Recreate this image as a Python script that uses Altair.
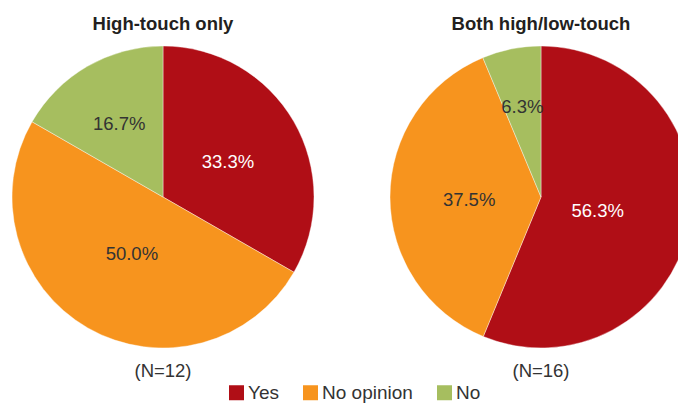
import altair as alt
import pandas as pd

# ---- data ----
answers = ["Yes", "No opinion", "No"]
colors = ["#B00E16", "#F7941E", "#A6BE5F"]
high_touch_pct = [33.3, 50.0, 16.7]
both_pct = [56.3, 37.5, 6.3]
panel_titles = ["High-touch only", "Both high/low-touch"]
n_values = [12, 16]

FONT = "Liberation Sans"
R = 151
CY = 189
CX = [155, 533]

legend = alt.Legend(
    orient="none", legendX=219, legendY=375, direction="horizontal",
    title=None, symbolType="square", symbolSize=225, symbolStrokeWidth=0,
    labelFont=FONT, labelFontSize=19, labelColor="#333333", labelOffset=2,
    columnPadding=22, padding=0,
)
color_enc = alt.Color("answer:N", scale=alt.Scale(domain=answers, range=colors),
                      sort=answers, legend=legend)


def make_pie(vals, cx, title, n):
    df = pd.DataFrame({"answer": answers, "value": vals,
                       "ord": list(range(len(answers)))})
    base = alt.Chart(df)
    order = alt.Order("ord:Q", sort="ascending")
    arc = base.mark_arc(radius=R, stroke="white", strokeWidth=0.4).encode(
        theta=alt.Theta("value:Q", stack=True), order=order, color=color_enc,
        x=alt.value(cx), y=alt.value(CY),
    )
    txt = base.transform_joinaggregate(
        total="sum(value)"
    ).transform_window(
        cum="sum(value)", sort=[alt.SortField("ord", order="ascending")],
        frame=[None, 0],
    ).transform_calculate(
        mid="(datum.cum - datum.value / 2) / datum.total * 2 * PI",
        label="format(datum.value, '.1f') + '%'",
        lr="100 - 0.75 * datum.value",
    ).mark_text(font=FONT, fontSize=18.5, align="center",
                baseline="middle", dy=3).encode(
        theta=alt.Theta("mid:Q", scale=None),
        radius=alt.Radius("lr:Q", scale=None),
        text="label:N",
        color=alt.condition("datum.answer == 'Yes'", alt.value("#ffffff"),
                            alt.value("#333333")),
        x=alt.value(cx), y=alt.value(CY),
    )
    ttl = alt.Chart(pd.DataFrame({"t": [title]})).mark_text(
        font=FONT, fontSize=18.5, fontWeight="bold", color="#231F20",
        align="center", baseline="alphabetic",
    ).encode(text="t:N", x=alt.value(cx), y=alt.value(22))
    nlab = alt.Chart(pd.DataFrame({"t": [f"(N={n})"]})).mark_text(
        font=FONT, fontSize=18.5, color="#333333",
        align="center", baseline="alphabetic",
    ).encode(text="t:N", x=alt.value(cx), y=alt.value(369))
    return alt.layer(arc, txt, ttl, nlab)


pie1 = make_pie(high_touch_pct, CX[0], panel_titles[0], n_values[0])
pie2 = make_pie(both_pct, CX[1], panel_titles[1], n_values[1])

chart = alt.layer(pie1, pie2).resolve_scale(theta="independent").properties(
    width=670, height=396, padding=0,
    autosize=alt.AutoSizeParams(type="none"),
).configure_view(stroke=None)

chart.save("out.html", embed_options={"renderer": "svg", "actions": False})
